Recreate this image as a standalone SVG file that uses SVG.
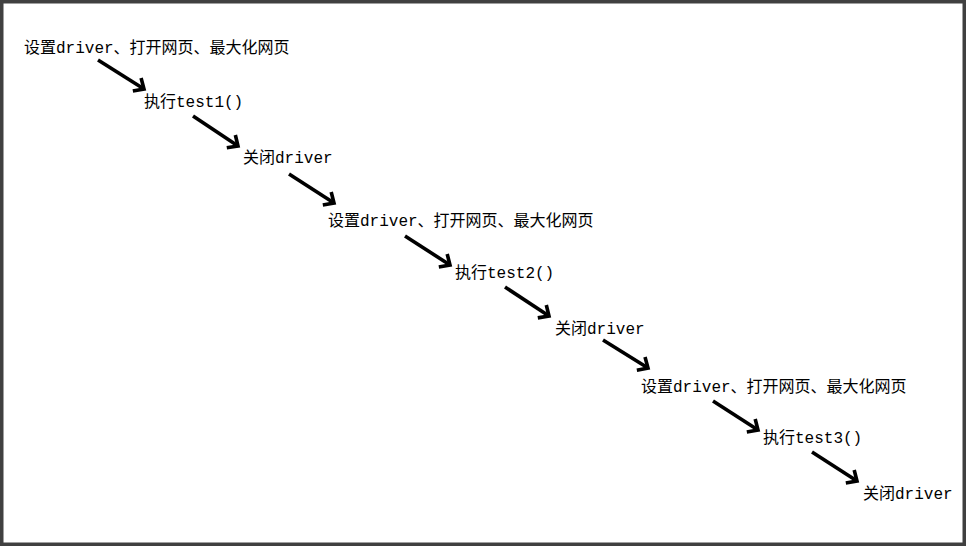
<svg xmlns="http://www.w3.org/2000/svg" width="966" height="546" viewBox="0 0 966 546">
  <defs>
    <marker id="head" markerUnits="userSpaceOnUse" markerWidth="16" markerHeight="16" refX="11" refY="8" orient="auto" overflow="visible">
      <path d="M4,1.5 L11,8 L4,14.5" fill="none" stroke="#000" stroke-width="3.6" stroke-linejoin="miter" stroke-linecap="square"/>
    </marker>
  </defs>
  <style>
    .frame { fill: #ffffff; stroke: #404040; stroke-width: 7; }
    .label { font-family: "Liberation Mono", "Noto Sans CJK SC", monospace; font-size: 16px; fill: #000; }
    .flow line { stroke: #000; stroke-width: 3.6; marker-end: url(#head); }
  </style>

  <rect class="frame" x="0" y="0" width="966" height="546"/>

  <g id="setup1"><text class="label" x="24" y="53">设置driver、打开网页、最大化网页</text></g>
  <g id="run1"><text class="label" x="144" y="107">执行test1()</text></g>
  <g id="close1"><text class="label" x="243" y="163">关闭driver</text></g>
  <g id="setup2"><text class="label" x="328" y="226">设置driver、打开网页、最大化网页</text></g>
  <g id="run2"><text class="label" x="455" y="278">执行test2()</text></g>
  <g id="close2"><text class="label" x="555" y="334">关闭driver</text></g>
  <g id="setup3"><text class="label" x="641" y="392">设置driver、打开网页、最大化网页</text></g>
  <g id="run3"><text class="label" x="763" y="443">执行test3()</text></g>
  <g id="close3"><text class="label" x="863" y="499">关闭driver</text></g>

  <g id="connectors" class="flow">
    <line x1="98" y1="60" x2="144" y2="89"/>
    <line x1="193" y1="116" x2="238" y2="146"/>
    <line x1="289" y1="174" x2="334" y2="203"/>
    <line x1="405" y1="236" x2="450" y2="265"/>
    <line x1="505" y1="287" x2="549" y2="316"/>
    <line x1="603" y1="340" x2="648" y2="368"/>
    <line x1="713" y1="401" x2="758" y2="430"/>
    <line x1="812" y1="452" x2="857" y2="481"/>
  </g>
</svg>
